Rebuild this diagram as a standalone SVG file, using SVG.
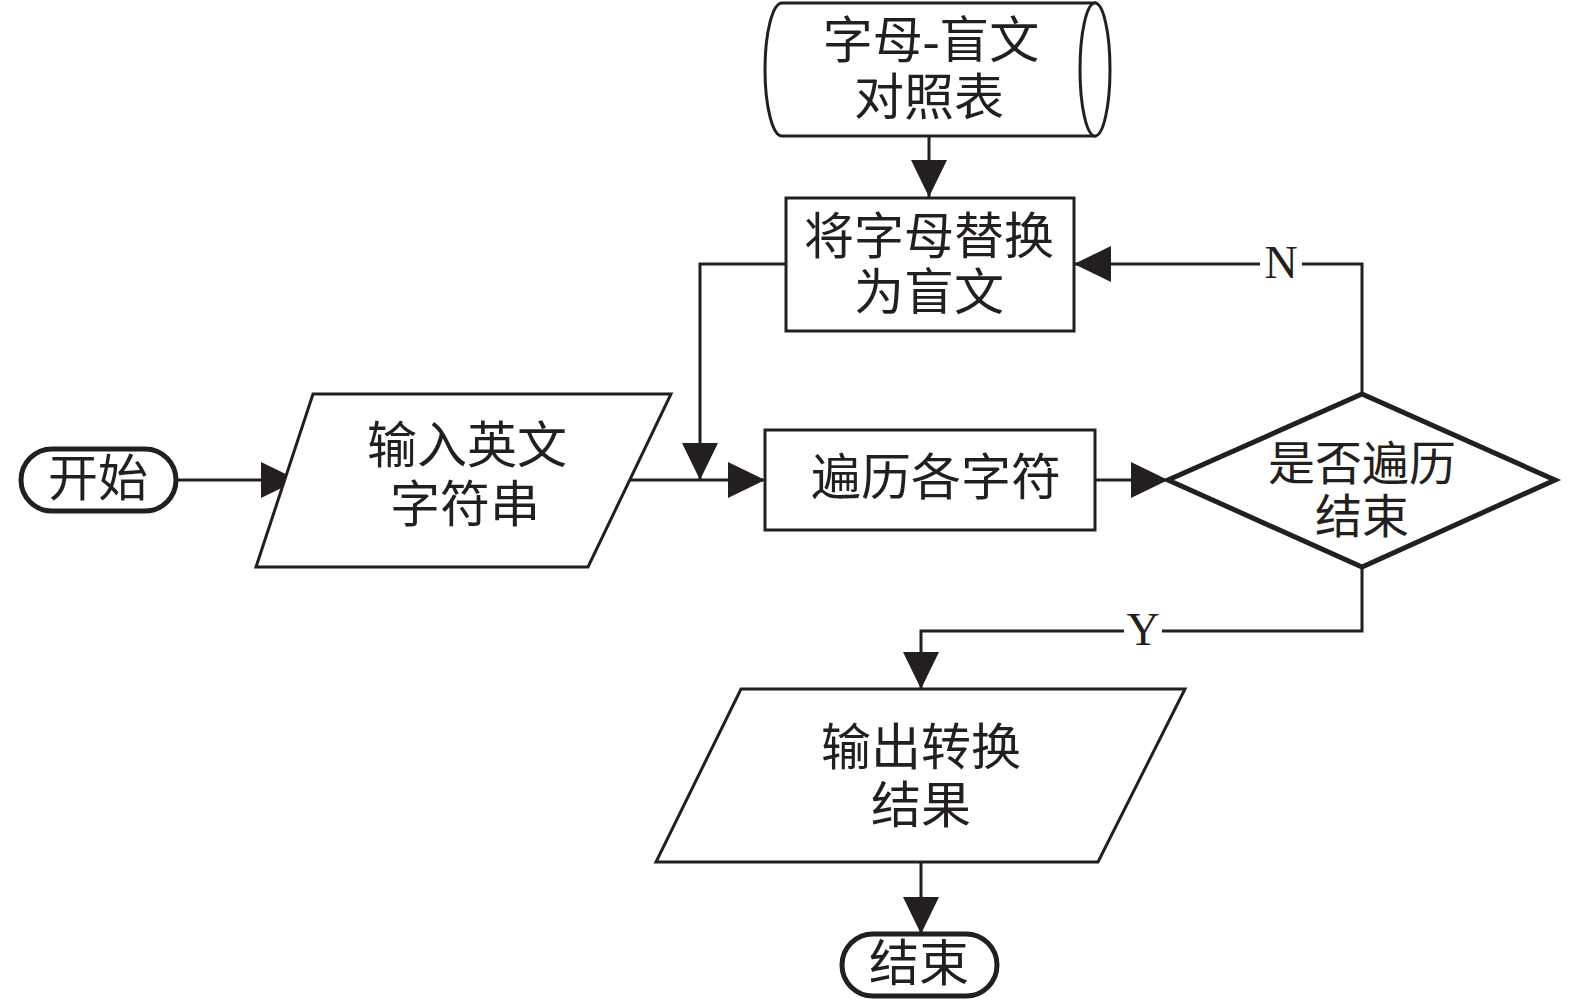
<svg xmlns="http://www.w3.org/2000/svg" width="1575" height="1000" viewBox="0 0 1575 1000">
<style>
.t{font-family:"Liberation Serif","Noto Sans CJK SC",serif;font-size:50px;fill:#231f20;text-anchor:middle;dominant-baseline:central}
.d{font-size:47px}
.l{font-family:"Liberation Serif",serif;font-size:46px;fill:#231f20;text-anchor:middle;dominant-baseline:central}
.s{fill:#fff;stroke:#231f20;stroke-width:3}
.k{fill:#fff;stroke:#231f20;stroke-width:5}
.c{fill:none;stroke:#231f20;stroke-width:3}
</style>
<defs>
<marker id="a" markerUnits="userSpaceOnUse" markerWidth="38" markerHeight="38" viewBox="0 0 38 38" refX="37" refY="19" orient="auto">
<path d="M0,1 L37,19 L0,37 Z" fill="#231f20"/>
</marker>
</defs>
<g id="connectors">
<path class="c" d="M929,136 L929,197" marker-end="url(#a)"/>
<path class="c" d="M786,264 L700,264 L700,480" marker-end="url(#a)"/>
<path class="c" d="M176,480 L298,480" marker-end="url(#a)"/>
<path class="c" d="M628,480 L765,480" marker-end="url(#a)"/>
<path class="c" d="M1095,480 L1168,480" marker-end="url(#a)"/>
<path class="c" d="M1362,394 L1362,264 L1302,264"/>
<path class="c" d="M1260,264 L1074,264" marker-end="url(#a)"/>
<path class="c" d="M1362,567 L1362,631 L1162,631"/>
<path class="c" d="M1124,631 L921,631 L921,689" marker-end="url(#a)"/>
<path class="c" d="M921,862 L921,934" marker-end="url(#a)"/>
<text class="l" x="1281" y="262">N</text>
<text class="l" x="1143" y="629">Y</text>
</g>
<g id="table">
<path class="s" d="M1095,3 L782,3 A17,66.5 0 0 0 782,136 L1095,136 Z"/>
<ellipse class="s" cx="1095" cy="69.5" rx="15" ry="66.5"/>
<text class="t" x="931" y="41">字母-盲文</text>
<text class="t" x="929" y="98">对照表</text>
</g>
<g id="replace">
<rect class="s" x="786" y="198" width="288" height="133"/>
<text class="t" x="929" y="237">将字母替换</text>
<text class="t" x="929" y="293">为盲文</text>
</g>
<g id="start">
<rect class="k" x="21" y="449" width="155" height="62" rx="31"/>
<text class="t" x="98" y="479">开始</text>
</g>
<g id="input">
<polygon class="s" points="313,394 671,394 588,567 256,567"/>
<text class="t" x="467" y="446">输入英文</text>
<text class="t" x="465" y="505">字符串</text>
</g>
<g id="traverse">
<rect class="s" x="765" y="430" width="330" height="100"/>
<text class="t" x="936" y="478">遍历各字符</text>
</g>
<g id="decision">
<polygon class="k" points="1168,480 1362,394 1555,480 1362,567"/>
<text class="t d" x="1362" y="464">是否遍历</text>
<text class="t d" x="1362" y="517">结束</text>
</g>
<g id="output">
<polygon class="s" points="741,689 1185,689 1098,862 656,862"/>
<text class="t" x="921" y="748">输出转换</text>
<text class="t" x="921" y="806">结果</text>
</g>
<g id="end">
<rect class="k" x="842" y="934" width="155" height="62" rx="31"/>
<text class="t" x="919" y="964">结束</text>
</g>
</svg>
